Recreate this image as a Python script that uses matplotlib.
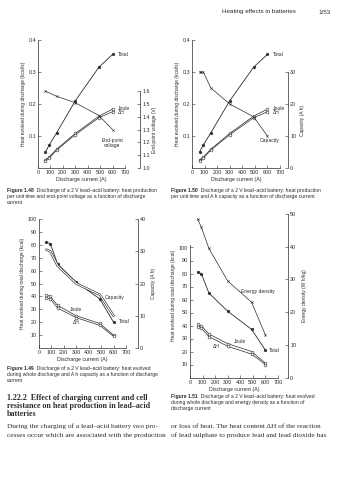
import matplotlib
matplotlib.use('Agg')
import matplotlib.pyplot as plt

plt.rcParams['font.family'] = ['Liberation Sans', 'DejaVu Sans']
INK = '#2b2b2b'

# ---- data ----
current = [60, 90, 150, 300, 490, 600]

# Fig 1.48 / 1.50: heat per unit time
rate_total = [0.050, 0.072, 0.110, 0.210, 0.315, 0.355]
rate_joule = [0.026, 0.034, 0.059, 0.108, 0.162, 0.184]
rate_dh = [0.023, 0.031, 0.056, 0.104, 0.157, 0.176]
volt_current = [60, 150, 300, 490, 600]
end_voltage = [1.60, 1.56, 1.51, 1.41, 1.30]
cap_current = [60, 75, 90, 150, 300, 490, 600]
capacity_rate = [30, 30, 30, 25, 20, 16, 10]

# Fig 1.49 / 1.51: heat over whole discharge
heat_total = [82, 81, 65, 51, 38, 20]
heat_joule = [41, 40, 33, 25, 19, 10]
heat_dh = [39, 38, 31, 23.5, 17.5, 9]
capacity = [30.5, 30, 25.5, 20, 16.5, 10]
heat_total_b = [81, 80, 65, 51, 37, 21]
heat_joule_b = [41, 40, 33.5, 26, 20, 11]
heat_dh_b = [39, 38, 31.5, 24, 18, 10]
energy_density = [48.5, 46, 39.5, 29.5, 23, 13]

xticks = list(range(0, 701, 100))

W, H = 337, 480
fig = plt.figure(figsize=(W / 100, H / 100), dpi=100)
fig.patch.set_facecolor('white')

page = fig.add_axes([0, 0, 1, 1])
page.set_xlim(0, W)
page.set_ylim(H, 0)
page.axis('off')


def box(x0, x1, ybot, ytop):
    return [x0 / W, 1 - ybot / H, (x1 - x0) / W, (ybot - ytop) / H]


def make_axes(x0, x1, ybot, ytop, ymax, yticks, ylabels, ylabel, top=None):
    ax = fig.add_axes(box(x0, x1, ybot, ytop))
    ax.patch.set_alpha(0)
    ax.set_xlim(0, 700)
    ax.set_ylim(0, ymax)
    ax.spines[['top', 'right']].set_visible(False)
    for s in ('left', 'bottom'):
        ax.spines[s].set_linewidth(0.5)
        ax.spines[s].set_color(INK)
    if top is not None:
        ax.spines['left'].set_bounds(0, top)
    ax.set_xticks(xticks)
    ax.set_yticks(yticks)
    ax.set_yticklabels(ylabels)
    ax.tick_params(direction='in', length=2, width=0.4, labelsize=3.9, pad=1.5, colors=INK)
    ax.set_xlabel('Discharge current (A)', fontsize=3.8, color=INK, labelpad=1.5)
    ax.set_ylabel(ylabel, fontsize=3.5, color=INK, labelpad=2)
    return ax


def make_twin(ax, ylim, bounds, ticks, labels, outward, label, label_x):
    tw = ax.twinx()
    tw.set_ylim(*ylim)
    for s in ('left', 'top', 'bottom'):
        tw.spines[s].set_visible(False)
    sp = tw.spines['right']
    sp.set_position(('outward', outward))
    sp.set_bounds(*bounds)
    sp.set_linewidth(0.5)
    sp.set_color(INK)
    tw.set_yticks(ticks)
    tw.set_yticklabels(labels)
    tw.tick_params(direction='in', length=2, width=0.4, labelsize=3.9, pad=1.5, colors=INK)
    tw.set_ylabel(label, fontsize=3.5, color=INK, rotation=90)
    mid = (sum(bounds) / 2 - ylim[0]) / (ylim[1] - ylim[0])
    tw.yaxis.set_label_coords(label_x, mid)
    return tw


def hollow(ax, x, y, **kw):
    ax.plot(x, y, color=INK, lw=1.7, solid_capstyle='round', **kw)
    ax.plot(x, y, color='white', lw=0.8, solid_capstyle='round', **kw)


def filled(ax, x, y):
    ax.plot(x, y, color=INK, lw=0.6, marker='o', ms=2.0, mfc=INK, mec=INK, mew=0.3)


def open_line(ax, x, y, lw=0.5):
    ax.plot(x, y, color=INK, lw=lw, marker='o', ms=2.0, mfc='white', mec=INK, mew=0.4)


def label(ax, x, y, s, ha='left'):
    ax.text(x, y, s, fontsize=3.6, color=INK, ha=ha, va='center')


# ---- Figure 1.48 ----
ax1 = make_axes(38, 125, 168, 40, 0.4, [0.1, 0.2, 0.3, 0.4], ['0.1', '0.2', '0.3', '0.4'],
                'Heat evolved during discharge (kcal/s)')
tw1 = make_twin(ax1, (1.0, 2.0), (1.0, 1.6), [1.0, 1.1, 1.2, 1.3, 1.4, 1.5, 1.6],
                ['1.0', '1.1', '1.2', '1.3', '1.4', '1.5', '1.6'], 10.8,
                'End-point voltage (V)', (152 - 38) / 87)
filled(ax1, current, rate_total)
open_line(ax1, current, rate_joule)
open_line(ax1, current, rate_dh)
tw1.plot(volt_current, end_voltage, color=INK, lw=0.5, marker='x', ms=1.6, mew=0.4)
label(ax1, 640, 0.355, 'Total')
label(ax1, 645, 0.186, 'Joule')
label(ax1, 645, 0.173, 'ΔH')
label(ax1, 600, 0.086, 'End-point', ha='center')
label(ax1, 600, 0.069, 'voltage', ha='center')

# ---- Figure 1.50 ----
ax2 = make_axes(192, 280, 168, 40, 0.4, [0.1, 0.2, 0.3, 0.4], ['0.1', '0.2', '0.3', '0.4'],
                'Heat evolved during discharge (kcal/s)')
tw2 = make_twin(ax2, (0, 40), (0, 30), [0, 10, 20, 30], ['0', '10', '20', '30'], 5.8,
                'Capacity (A h)', (300 - 192) / 88)
filled(ax2, current, rate_total)
open_line(ax2, current, rate_joule)
open_line(ax2, current, rate_dh)
tw2.plot(cap_current, capacity_rate, color=INK, lw=0.5, marker='x', ms=1.6, mew=0.4)
label(ax2, 640, 0.355, 'Total')
label(ax2, 645, 0.186, 'Joule')
label(ax2, 645, 0.173, 'ΔH')
label(ax2, 620, 0.085, 'Capacity', ha='center')

# ---- Figure 1.49 ----
yt = list(range(10, 101, 10))
ax3 = make_axes(39, 126, 348, 219, 100, yt, [str(v) for v in yt],
                'Heat evolved during total discharge (kcal)')
tw3 = make_twin(ax3, (0, 40), (0, 40), [0, 10, 20, 30, 40], ['0', '10', '20', '30', '40'], 8.6,
                'Capacity (A h)', (151 - 39) / 87)
hollow(tw3, current, capacity)
filled(ax3, current, heat_total)
open_line(ax3, current, heat_joule)
open_line(ax3, current, heat_dh)
label(ax3, 300, 29.5, 'Joule', ha='center')
label(ax3, 300, 20, 'ΔH', ha='center')
label(ax3, 530, 39.5, 'Capacity')
label(ax3, 645, 20.4, 'Total')

# ---- Figure 1.51 ----
ax4 = make_axes(190, 278, 377.5, 214, 163.5 / 1.3, yt, [str(v) for v in yt],
                'Heat evolved during total discharge (kcal)', top=102)
tw4 = make_twin(ax4, (0, 50), (0, 50), [0, 10, 20, 30, 40, 50], ['0', '10', '20', '30', '40', '50'],
                7.2, 'Energy density (W h/kg)', (302 - 190) / 88)
tw4.plot(current, energy_density, color=INK, lw=0.5, marker='x', ms=1.6, mew=0.4)
filled(ax4, current, heat_total_b)
open_line(ax4, current, heat_joule_b)
open_line(ax4, current, heat_dh_b)
label(ax4, 540, 65.8, 'Energy density', ha='center')
label(ax4, 398, 27.5, 'Joule', ha='center')
label(ax4, 212, 23.7, 'ΔH', ha='center')
label(ax4, 625, 21, 'Total')

# ---- page text ----
page.text(296, 12, 'Heating effects in batteries', fontsize=4.5, color=INK, ha='right', va='center')
page.text(318, 12, '1/53', fontsize=4.5, color=INK, ha='left', va='center')

CAP = 3.6


def caption(x, y, num, lines, step=6.0):
    t = page.text(x, y, num, fontsize=CAP, weight='bold', color=INK, va='bottom')
    page.annotate('  ' + lines[0], xy=(1, 0), xycoords=t, fontsize=CAP, color=INK, va='bottom')
    for k, s in enumerate(lines[1:], start=1):
        page.text(x, y + k * step, s, fontsize=CAP, color=INK, va='bottom')


caption(7, 193, 'Figure 1.48', ['Discharge of a 2 V lead\u2013acid battery: heat production',
                                'per unit time and end-point voltage as a function of discharge',
                                'current'])
caption(171, 193, 'Figure 1.50', ['Discharge of a 2 V lead\u2013acid battery: heat production',
                                  'per unit time and A h capacity as a function of discharge current'])
caption(7, 371, 'Figure 1.49', ['Discharge of a 2 V lead\u2013acid battery: heat evolved',
                                'during whole discharge and A h capacity as a function of discharge',
                                'current'])
caption(171, 399, 'Figure 1.51', ['Discharge of a 2 V lead\u2013acid battery: heat evolved',
                                  'during whole discharge and energy density as a function of',
                                  'discharge current'])

serif = ['Liberation Serif', 'DejaVu Serif']
for k, s in enumerate(['1.22.2  Effect of charging current and cell',
                       'resistance on heat production in lead\u2013acid',
                       'batteries']):
    page.text(7, 402 + k * 8, s, fontsize=5.7, weight='bold', family=serif, color=INK, va='bottom')

for k, s in enumerate(['During the charging of a lead\u2013acid battery two pro-',
                       'cesses occur which are associated with the production']):
    page.text(7, 429 + k * 9, s, fontsize=5.2, family=serif, color=INK, va='bottom')

for k, s in enumerate(['or loss of heat. The heat content \u0394H of the reaction',
                       'of lead sulphate to produce lead and lead dioxide has']):
    page.text(171, 429 + k * 9, s, fontsize=5.2, family=serif, color=INK, va='bottom')

fig.savefig('out.png', dpi=100, facecolor='white')
